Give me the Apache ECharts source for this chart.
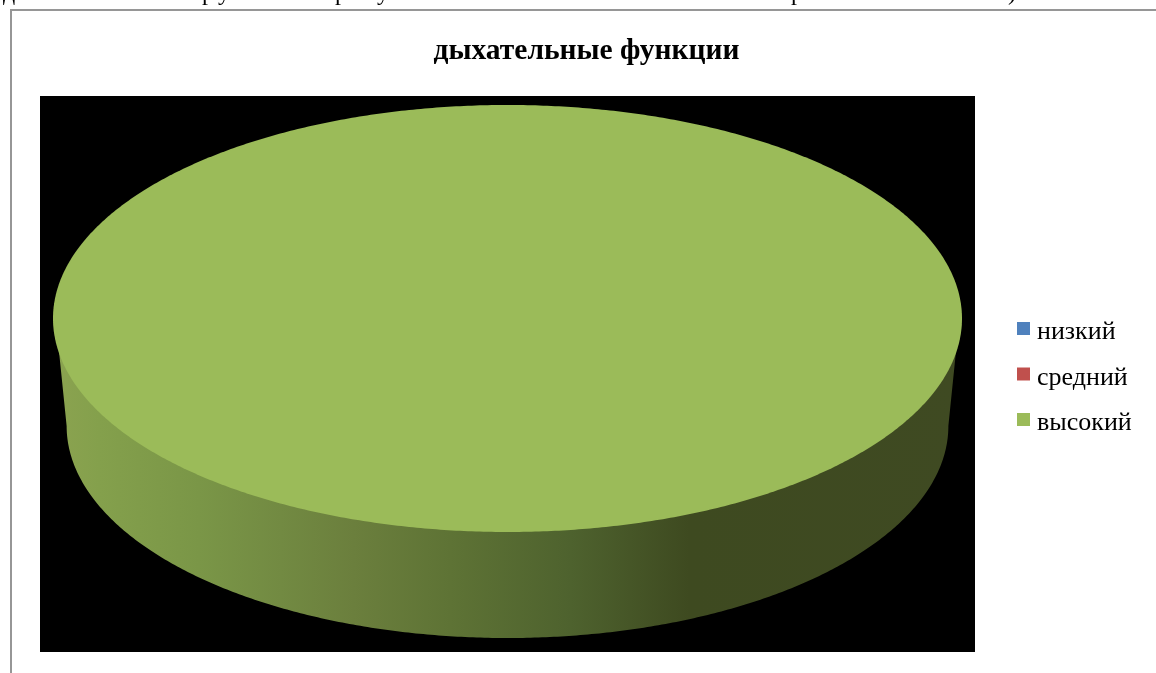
<!DOCTYPE html>
<html>
<head>
<meta charset="UTF-8">
<title>дыхательные функции</title>
<script src="https://cdn.jsdelivr.net/npm/echarts@6/dist/echarts.min.js"></script>
<style>
	html,body{margin:0;padding:0;background:#fff;}
	#main{width:1156px;height:673px;}
</style>
</head>
<body>
<div id="main"></div>
<script type="text/javascript">
	var chartTitle = 'дыхательные функции';
	var categories = ['низкий', 'средний', 'высокий'];
	var values = [0, 0, 100];
	var colors = ['#4f81bd', '#c0504d', '#9bbb59'];
	// обрывок строки документа над рисунком
	var clippedText = [['д', 3], ['р', 202], ['у', 218], ['р', 335], ['у', 377], ['р', 791], [')', 1008]];

	var total = values.reduce(function (a, b) { return a + b; }, 0);
	var FONT = '"Liberation Serif", serif';
	// нижняя кромка диска относительно верхнего эллипса (оси в радиусах)
	var BOTTOM_RX = 0.970, BOTTOM_RY = 0.993, BOTTOM_DY = -0.5035;
	var STEP = Math.PI / 360;

	var wallGradient = new echarts.graphic.LinearGradient(0, 0, 1, 0, [
		{offset: 0, color: '#8ba350'},
		{offset: 0.05, color: '#84a04c'},
		{offset: 0.16, color: '#7a9647'},
		{offset: 0.25, color: '#728a42'},
		{offset: 0.33, color: '#6b7f3d'},
		{offset: 0.437, color: '#5e7335'},
		{offset: 0.57, color: '#4e622e'},
		{offset: 0.7, color: '#3e4a20'},
		{offset: 1, color: '#3f4a22'}
	]);

	function sliceRange(index) {
		var before = 0;
		for (var i = 0; i < index; i++) before += values[i];
		return [before / total * 2 * Math.PI, (before + values[index]) / total * 2 * Math.PI];
	}

	function makeRender(index) {
		return function (params, api) {
			var value = api.value(0);
			if (!value) return null;
			var range = sliceRange(index);
			var full = range[1] - range[0] >= 2 * Math.PI - 1e-6;

			// верх: углы по часовой стрелке от 12 часов
			var top = [];
			if (!full) top.push(api.coord([0, 0]));
			for (var a = range[0]; a <= range[1] + 1e-9; a += STEP) {
				top.push(api.coord([Math.sin(a), Math.cos(a)]));
			}

			// стенка видна только на нижней половине
			var from = Math.max(range[0], Math.PI / 2 - 0.07);
			var to = Math.min(range[1], 3 * Math.PI / 2 + 0.07);
			var wall = [];
			if (from < to) {
				wall.push(api.coord([Math.sin(from), Math.cos(from)]));
				for (var b = Math.max(from, Math.PI / 2); b <= Math.min(to, 3 * Math.PI / 2) + 1e-9; b += STEP) {
					wall.push(api.coord([BOTTOM_RX * Math.sin(b), BOTTOM_DY + BOTTOM_RY * Math.cos(b)]));
				}
				wall.push(api.coord([Math.sin(to), Math.cos(to)]));
			}

			return {
				type: 'group',
				children: [
					{type: 'polygon', shape: {points: wall}, style: {fill: wallGradient}},
					{type: 'polygon', shape: {points: top}, style: {fill: colors[index]}}
				]
			};
		};
	}

	var frame = [
		{type: 'rect', shape: {x: 10, y: 9, width: 1146, height: 2}, style: {fill: '#969696'}},
		{type: 'rect', shape: {x: 10, y: 9, width: 2, height: 664}, style: {fill: '#969696'}}
	];
	clippedText.forEach(function (item) {
		frame.push({
			type: 'text', x: item[1], y: -18,
			style: {text: item[0], font: '24px ' + FONT, fill: '#000'}
		});
	});

	var myChart = echarts.init(document.getElementById('main'));
	myChart.setOption({
		animation: false,
		backgroundColor: '#fff',
		title: {
			text: chartTitle, left: 581.5, top: 31, textAlign: 'center',
			textStyle: {fontFamily: FONT, fontSize: 29.5, fontWeight: 'bold', color: '#000'}
		},
		legend: {
			orient: 'vertical', left: 1012, top: 314.5, icon: 'rect',
			itemWidth: 13, itemHeight: 13, itemGap: 19.5, selectedMode: false,
			data: categories,
			formatter: '{a|{name}}',
			textStyle: {
				fontFamily: FONT, fontSize: 26, color: '#000',
				rich: {a: {fontFamily: FONT, fontSize: 26, color: '#000', padding: [8, 0, 0, 2]}}
			}
		},
		grid: {show: true, left: 40, top: 96, width: 935, height: 556, backgroundColor: '#000', borderWidth: 0},
		xAxis: {type: 'value', show: false, min: -1.0286, max: 1.0286},
		yAxis: {type: 'value', show: false, min: -1.562, max: 1.042},
		graphic: frame,
		series: categories.map(function (name, i) {
			return {
				type: 'custom', name: name,
				coordinateSystem: 'cartesian2d',
				clip: false, silent: true,
				itemStyle: {color: colors[i]},
				encode: {x: 0, y: 1},
				renderItem: makeRender(i),
				data: [[values[i], 0]]
			};
		})
	});
</script>
</body>
</html>
